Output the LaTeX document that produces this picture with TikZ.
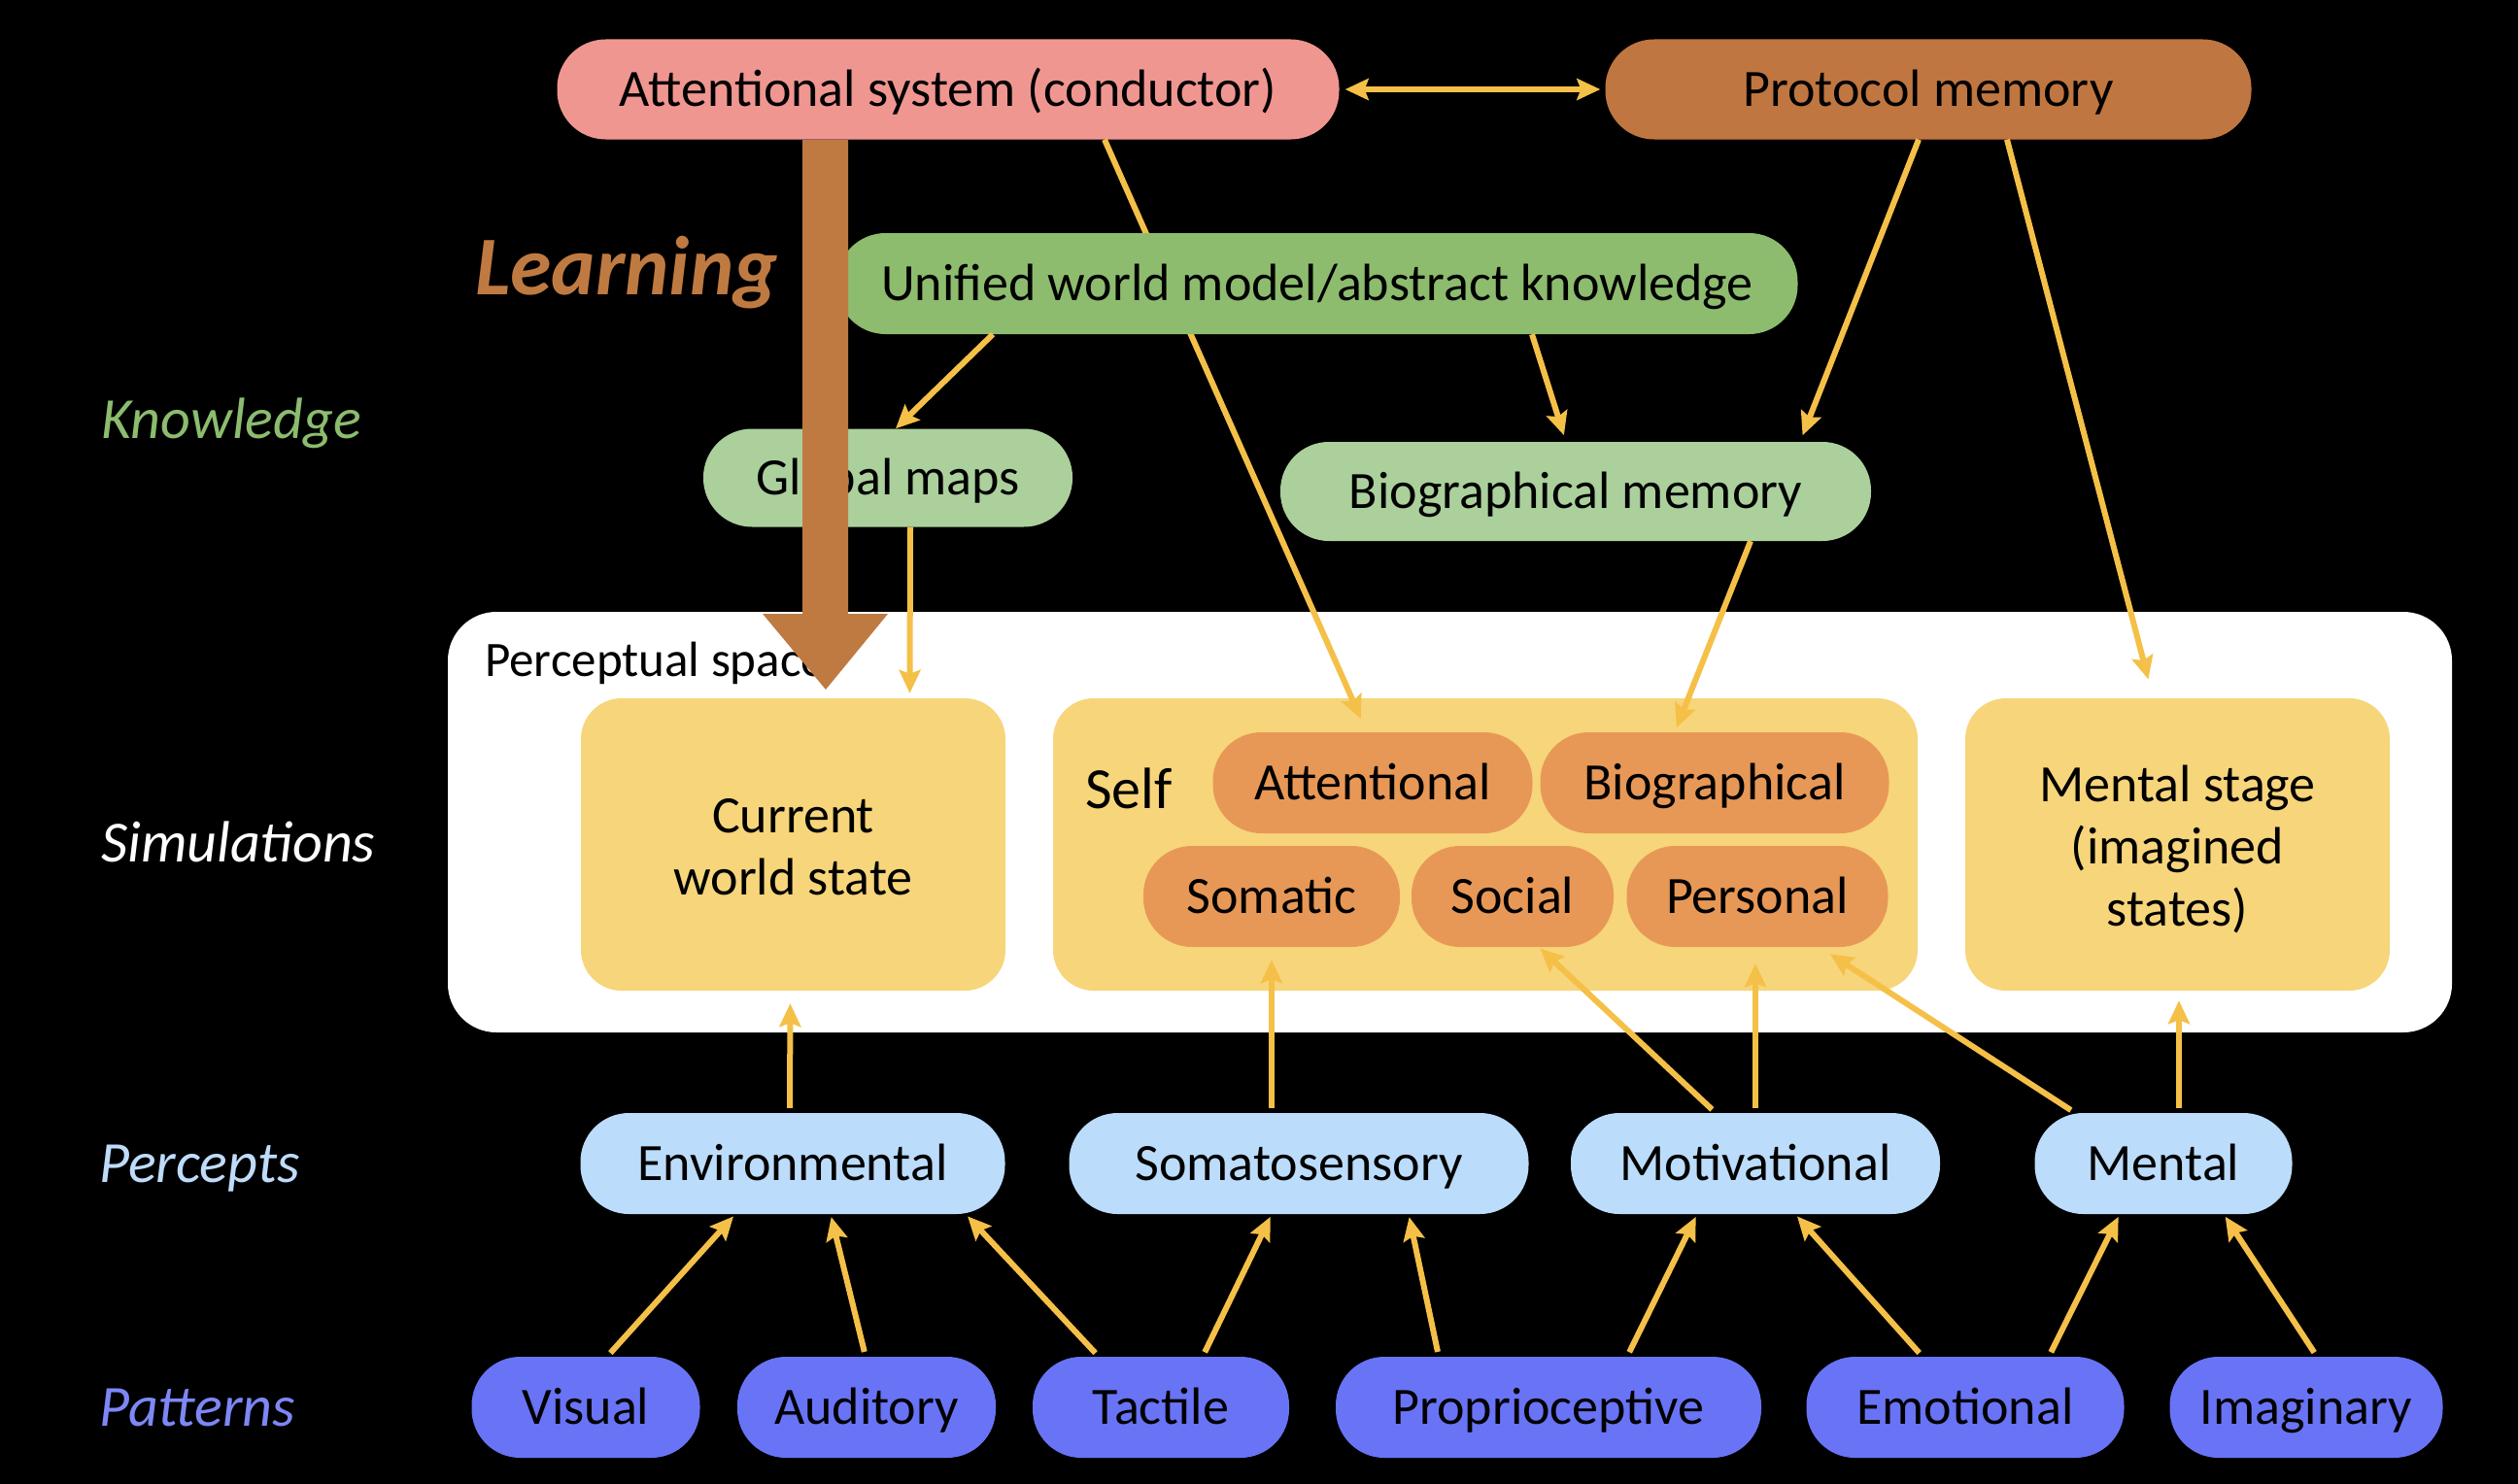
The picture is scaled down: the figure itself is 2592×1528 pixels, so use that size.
\documentclass[tikz,border=0pt]{standalone}
\usepackage{fontspec}
\setmainfont{Carlito}
\usetikzlibrary{arrows.meta}
\definecolor{pinkc}{RGB}{240,150,145}
\definecolor{protc}{RGB}{192,118,64}
\definecolor{learnc}{RGB}{191,122,66}
\definecolor{unic}{RGB}{141,188,110}
\definecolor{lgreen}{RGB}{171,208,156}
\definecolor{simc}{RGB}{247,213,122}
\definecolor{selfc}{RGB}{232,152,86}
\definecolor{percc}{RGB}{187,220,250}
\definecolor{patc}{RGB}{104,116,245}
\definecolor{arrc}{RGB}{245,192,72}
\definecolor{knowc}{RGB}{140,188,110}
\definecolor{perlab}{RGB}{190,220,250}
\definecolor{patlab}{RGB}{125,135,245}
\tikzset{
 pill/.style={rounded corners=50pt, minimum height=104pt, inner sep=0pt, text height=45pt, text depth=10pt, font=\fontsize{54}{64}\selectfont, text=black},
 simbox/.style={rounded corners=42pt, minimum width=437pt, minimum height=301pt, inner sep=0pt, fill=simc},
 simtext/.style={inner sep=0pt, font=\fontsize{54}{64}\selectfont, align=center},
 lvl/.style={anchor=west, inner sep=0pt, text height=48pt, text depth=10pt, font=\fontsize{60}{70}\selectfont\itshape},
 conn/.style={draw=arrc, line width=6pt, -{Stealth[length=24pt,width=22pt,inset=4pt]}},
 dconn/.style={draw=arrc, line width=6pt, {Stealth[length=24pt,width=22pt,inset=4pt]}-{Stealth[length=24pt,width=22pt,inset=4pt]}},
}
\begin{document}
\begin{tikzpicture}[x=1pt,y=-1pt]
\fill[black] (0,0) rectangle (2592,1528);
\useasboundingbox (0,0) rectangle (2592,1528);

% level labels
\node[lvl, text=knowc] (lknow) at (104,432) {Knowledge};
\node[lvl, text=white] (lsim) at (104,868) {Simulations};
\node[lvl, text=perlab] (lperc) at (102,1198) {Percepts};
\node[lvl, text=patlab] (lpat) at (102,1449) {Patterns};

% perceptual space
\node[fill=white, rounded corners=50pt, minimum width=2063pt, minimum height=433pt, inner sep=0pt] (pspace) at (1492.5,846.5) {};
\node[anchor=west, inner sep=0pt, font=\fontsize{51}{60}\selectfont] (pstext) at (499,683) {Perceptual space};

\node[simbox] (cws) at (816.5,869.5) {};
\node[simtext] (cwst) at (816.5,872) {Current\\world state};
\node[simbox, minimum width=890pt] (selfbox) at (1529,869.5) {};
\node[simbox] (mstage) at (2241.5,869.5) {};
\node[simtext] (mstaget) at (2241.5,874) {Mental stage\\(imagined\\states)};
\node[inner sep=0pt, font=\fontsize{60}{70}\selectfont] (selft) at (1162,812) {Self};

\node[pill, fill=selfc, minimum width=329pt] (att) at (1413,806) {Attentional};
\node[pill, fill=selfc, minimum width=359pt] (bio) at (1765,806) {Biographical};
\node[pill, fill=selfc, minimum width=264pt] (soma) at (1309,923) {Somatic};
\node[pill, fill=selfc, minimum width=208pt] (soci) at (1557,923) {Social};
\node[pill, fill=selfc, minimum width=269pt] (pers) at (1809,923) {Personal};

% top
\node[pill, fill=pinkc, minimum width=805pt, minimum height=103pt] (attsys) at (976,92) {Attentional system (conductor)};
\node[pill, fill=protc, minimum width=665pt, minimum height=103pt] (protocol) at (1985,92) {Protocol memory};

\draw[conn, shorten >=15pt] ([xshift=161pt]attsys.south) -- ([xshift=-6pt]att.north);

\node[pill, fill=unic, minimum width=989pt] (unified) at (1356,292) {Unified world model/abstract knowledge};
\node[pill, fill=lgreen, minimum width=380pt, minimum height=101pt] (gmaps) at (914,492) {Global maps};
\node[pill, fill=lgreen, minimum width=608pt, minimum height=102pt] (biomem) at (1622,506) {Biographical memory};

% percepts
\node[pill, fill=percc, minimum width=437pt] (env) at (816,1198) {Environmental};
\node[pill, fill=percc, minimum width=473pt] (somt) at (1337,1198) {Somatosensory};
\node[pill, fill=percc, minimum width=380pt] (mot) at (1807,1198) {Motivational};
\node[pill, fill=percc, minimum width=265pt] (men) at (2227,1198) {Mental};

% patterns
\node[pill, fill=patc, minimum width=235pt] (vis) at (603,1449) {Visual};
\node[pill, fill=patc, minimum width=266pt] (aud) at (892,1449) {Auditory};
\node[pill, fill=patc, minimum width=264pt] (tac) at (1195,1449) {Tactile};
\node[pill, fill=patc, minimum width=438pt] (pro) at (1594,1449) {Proprioceptive};
\node[pill, fill=patc, minimum width=327pt] (emo) at (2023,1449) {Emotional};
\node[pill, fill=patc, minimum width=281pt] (ima) at (2374,1449) {Imaginary};

% top connectors
\draw[dconn, shorten <=6pt, shorten >=5pt] (attsys.east) -- (protocol.west);
\draw[conn] ([xshift=-334pt]unified.south) -- ([xshift=8pt]gmaps.north);
\draw[conn, shorten >=7pt] ([xshift=221pt]unified.south) -- ([xshift=-10pt]biomem.north);
\draw[conn, shorten >=7pt] ([xshift=-10pt]protocol.south) -- ([xshift=231pt]biomem.north);
\draw[conn, shorten >=20pt] ([xshift=81pt]protocol.south) -- ([xshift=-25pt]mstage.north);
\draw[conn, shorten >=5pt] ([xshift=180pt]biomem.south) -- ([xshift=-41pt]bio.north);
\draw[conn, shorten >=5pt] ([xshift=23pt]gmaps.south) -- ([xshift=120pt]cws.north);

% percepts to simulations
\draw[conn, shorten <=5pt, shorten >=13pt] ([xshift=-3pt]env.north) -- ([xshift=-3pt]cws.south);
\draw[conn, shorten <=5pt, shorten >=13pt] ([xshift=-28pt]somt.north) -- (soma.south);
\draw[conn, shorten <=5pt, shorten >=2pt] ([xshift=-41pt]mot.north) -- ([xshift=27pt]soci.south);
\draw[conn, shorten <=5pt, shorten >=17pt] (mot.north) -- ([xshift=-2pt]pers.south);
\draw[conn, shorten <=5pt, shorten >=13pt] ([xshift=-91pt]men.north) -- ([xshift=64pt]pers.south);
\draw[conn, shorten <=5pt, shorten >=10pt] ([xshift=16pt]men.north) -- ([xshift=1.5pt]mstage.south);

% patterns to percepts
\draw[conn, shorten <=5pt, shorten >=3pt] ([xshift=22pt]vis.north) -- ([xshift=-59pt]env.south);
\draw[conn, shorten <=5pt, shorten >=3pt] ([xshift=-1pt]aud.north) -- ([xshift=39pt]env.south);
\draw[conn, shorten <=5pt, shorten >=3pt] ([xshift=-64pt]tac.north) -- ([xshift=178pt]env.south);
\draw[conn, shorten <=5pt, shorten >=3pt] ([xshift=43pt]tac.north) -- ([xshift=-28pt]somt.south);
\draw[conn, shorten <=5pt, shorten >=3pt] ([xshift=-113pt]pro.north) -- ([xshift=113pt]somt.south);
\draw[conn, shorten <=5pt, shorten >=3pt] ([xshift=81pt]pro.north) -- ([xshift=-60pt]mot.south);
\draw[conn, shorten <=5pt, shorten >=3pt] ([xshift=-44pt]emo.north) -- ([xshift=41pt]mot.south);
\draw[conn, shorten <=5pt, shorten >=3pt] ([xshift=86pt]emo.north) -- ([xshift=-45pt]men.south);
\draw[conn, shorten <=5pt, shorten >=3pt] ([xshift=11pt]ima.north) -- ([xshift=62pt]men.south);

% learning arrow
\fill[learnc] (826,144) -- (873,144) -- (873,632) -- (914,632) -- (850,710) -- (785,632) -- (826,632) -- cycle;
\node[inner sep=0pt, text=learnc, font=\fontsize{86}{96}\selectfont\bfseries\itshape] (learn) at (645,281) {Learning};
\end{tikzpicture}
\end{document}
